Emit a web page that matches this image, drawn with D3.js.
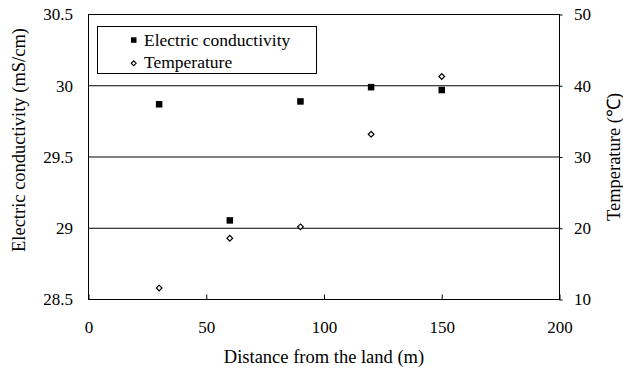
<!DOCTYPE html>
<html><head><meta charset="utf-8">
<script src="https://cdn.jsdelivr.net/npm/d3@7"></script>
<style>body{margin:0;background:#fff}svg{display:block}svg text{font-family:'Liberation Serif','Times New Roman',serif;fill:#000}</style>
</head><body>
<svg id="c" width="623" height="373"></svg>
<script>
const distance = [30, 60, 90, 120, 150];
const conductivity = [29.87, 29.055, 29.89, 29.99, 29.97];
const temperature = [11.6, 18.6, 20.2, 33.2, 41.3];
const xTicks = [0, 50, 100, 150, 200];
const ecTicks = [28.5, 29, 29.5, 30, 30.5];
const tTicks = [10, 20, 30, 40, 50];
const ecTickLabels = ["28.5", "29", "29.5", "30", "30.5"];

const svg = d3.select("#c");
const L = 88.5, R = 559.5, T = 14.5, B = 299.5;
const fsTick = 17, fsTitle = 18.5, fsLeg = 17.5;
const FF = "'Liberation Serif','Times New Roman',serif";
const x = d3.scaleLinear().domain([0, 200]).range([L, R]);
const yL = d3.scaleLinear().domain([28.5, 30.5]).range([B, T]);
const yR = d3.scaleLinear().domain([10, 50]).range([B, T]);

// gridlines
svg.append("g").selectAll("line").data(ecTicks.slice(1, -1)).join("line")
  .attr("x1", L).attr("x2", R).attr("y1", d => yL(d)).attr("y2", d => yL(d))
  .attr("stroke", "#000").attr("stroke-width", 1);

// frame
svg.append("rect").attr("x", L).attr("y", T).attr("width", R - L).attr("height", B - T)
  .attr("fill", "none").attr("stroke", "#000").attr("stroke-width", 1);

// x axis
const gx = svg.append("g").attr("transform", `translate(0,${B})`)
  .call(d3.axisBottom(x).tickValues(xTicks).tickSize(-5).tickPadding(21).tickFormat(d3.format("d")));
gx.select(".domain").remove();
gx.attr("font-family", FF).attr("font-size", fsTick);
gx.selectAll("line").attr("stroke", "#000");

// left axis
const gl = svg.append("g").attr("transform", `translate(${L},0)`)
  .call(d3.axisLeft(yL).tickValues(ecTicks).tickSize(0).tickPadding(15.5).tickFormat((d, i) => ecTickLabels[i]));
gl.select(".domain").remove();
gl.attr("font-family", FF).attr("font-size", fsTick);

// right axis
const gr = svg.append("g").attr("transform", `translate(${R},0)`)
  .call(d3.axisRight(yR).tickValues(tTicks).tickSize(3).tickPadding(11.5).tickFormat(d3.format("d")));
gr.select(".domain").remove();
gr.attr("font-family", FF).attr("font-size", fsTick);
gr.selectAll("line").attr("stroke", "#000");

// axis titles
svg.append("text").attr("x", (L + R) / 2).attr("y", 362.5).attr("text-anchor", "middle")
  .attr("font-size", fsTitle).text("Distance from the land (m)");
svg.append("text").attr("transform", `translate(25,140) rotate(-90)`).attr("text-anchor", "middle")
  .attr("font-size", fsTitle).text("Electric conductivity (mS/cm)");
svg.append("text").attr("transform", `translate(619.5,157) rotate(-90)`).attr("text-anchor", "middle")
  .attr("font-size", fsTitle).text("Temperature (℃)");

// points
const sq = 6.5;
svg.append("g").selectAll("rect").data(distance).join("rect")
  .attr("x", (d) => x(d) - sq / 2).attr("y", (d, i) => yL(conductivity[i]) - sq / 2)
  .attr("width", sq).attr("height", sq).attr("fill", "#000");
svg.append("g").selectAll("path").data(distance).join("path")
  .attr("d", d3.symbol().type(d3.symbolSquare).size(16))
  .attr("transform", (d, i) => `translate(${x(d)},${yR(temperature[i])}) rotate(45)`)
  .attr("fill", "#fff").attr("stroke", "#000").attr("stroke-width", 1.2);

// legend
const lg = svg.append("g");
lg.append("rect").attr("x", 97.5).attr("y", 26.5).attr("width", 219).attr("height", 47)
  .attr("fill", "#fff").attr("stroke", "#000").attr("stroke-width", 1);
lg.append("rect").attr("x", 131).attr("y", 37.3).attr("width", 5.5).attr("height", 5.5).attr("fill", "#000");
lg.append("path").attr("d", d3.symbol().type(d3.symbolSquare).size(12)())
  .attr("transform", "translate(133.7,63.3) rotate(45)").attr("fill", "#fff").attr("stroke", "#000").attr("stroke-width", 1.1);
lg.append("text").attr("x", 144).attr("y", 45.5).attr("font-size", fsLeg).text("Electric conductivity");
lg.append("text").attr("x", 144).attr("y", 68).attr("font-size", fsLeg).text("Temperature");
</script>
</body></html>
